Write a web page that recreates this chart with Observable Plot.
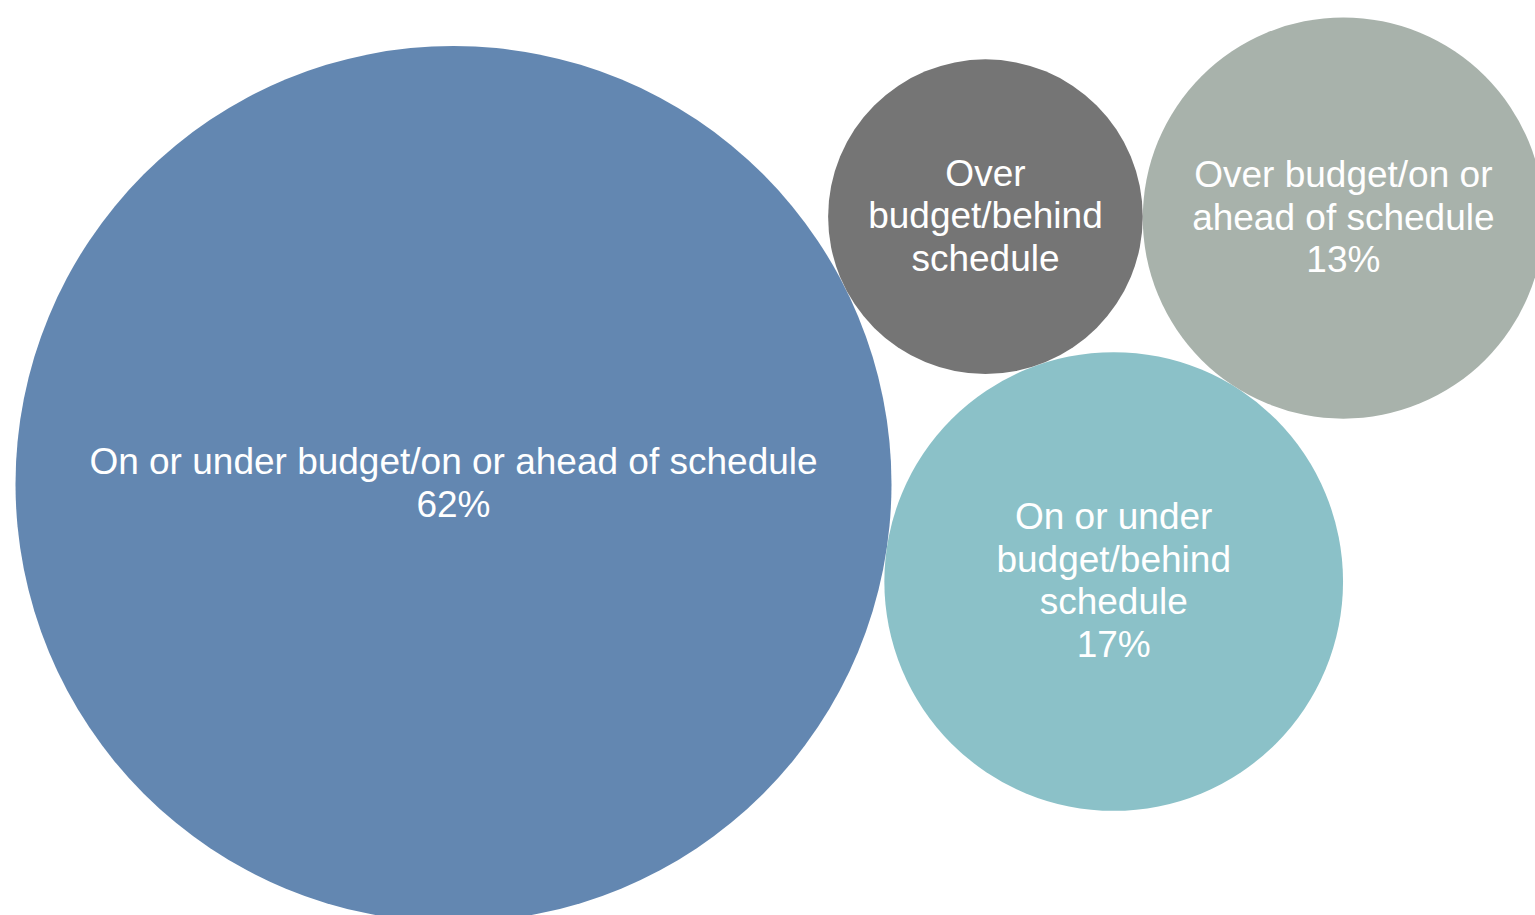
<!DOCTYPE html>
<html>
<head>
<meta charset="utf-8">
<script src="https://cdn.jsdelivr.net/npm/d3@7"></script>
<script src="https://cdn.jsdelivr.net/npm/@observablehq/plot@0.6"></script>
<style>
  html, body { margin: 0; padding: 0; background: #ffffff; overflow: hidden; }
  #chart svg { display: block; }
</style>
</head>
<body>
<div id="chart"></div>
<script>
// ---- Data ----
const categories = [
  "On or under budget/on or ahead of schedule",
  "On or under budget/behind schedule",
  "Over budget/behind schedule",
  "Over budget/on or ahead of schedule"
];
const values = [62, 17, 8, 13];
const labelLines = [
  ["On or under budget/on or ahead of schedule"],
  ["On or under", "budget/behind", "schedule"],
  ["Over", "budget/behind", "schedule"],
  ["Over budget/on or", "ahead of schedule"]
];
const showValue = [true, true, false, true];

// ---- Styles ----
const colors = ["#6387b1", "#8bc1c8", "#757575", "#a8b2ab"];
const W = 1535, H = 915;
const maxRadius = 438;
const padLeft = 15, padTop = 17;
const firstAngle = 8.4 * Math.PI / 180; // direction from largest to 2nd bubble

// ---- Layout: tangent-circle packing (in pixel units of the r scale) ----
const rScale = d3.scaleSqrt().domain([0, d3.max(values)]).range([0, maxRadius]);
const nodes = categories.map((c, i) => ({
  category: c,
  value: values[i],
  r: rScale(values[i]),
  label: labelLines[i].concat(showValue[i] ? [values[i] + "%"] : []).join("\n")
}));
function placeTangent(a, b, c, side) {
  const da = a.r + c.r, db = b.r + c.r;
  const dab = Math.hypot(b.x - a.x, b.y - a.y);
  const alpha = Math.acos((dab * dab + da * da - db * db) / (2 * dab * da));
  const base = Math.atan2(b.y - a.y, b.x - a.x);
  c.x = a.x + da * Math.cos(base + side * alpha);
  c.y = a.y + da * Math.sin(base + side * alpha);
}
const [B, T, D, L] = nodes;
B.x = 0; B.y = 0;
T.x = (B.r + T.r) * Math.cos(firstAngle);
T.y = (B.r + T.r) * Math.sin(firstAngle);
placeTangent(B, T, D, -1);
placeTangent(T, D, L, +1);

const minX = d3.min(nodes, d => d.x - d.r);
const minY = d3.min(nodes, d => d.y - d.r);
const x0 = minX - padLeft, y0 = minY - padTop;

const chart = Plot.plot({
  width: W,
  height: H,
  margin: 0,
  style: { background: "#ffffff", overflow: "visible" },
  x: { domain: [x0, x0 + W], range: [0, W], axis: null },
  y: { domain: [y0, y0 + H], range: [0, H], axis: null },
  r: { type: "sqrt", domain: [0, d3.max(values)], range: [0, maxRadius] },
  color: { domain: categories, range: colors },
  marks: [
    Plot.dot(nodes, { x: "x", y: "y", r: "value", fill: "category", stroke: "none", fillOpacity: 1 }),
    Plot.text(nodes, {
      x: "x", y: "y", text: "label",
      fill: "#ffffff",
      fontSize: 37,
      lineHeight: 1.15,
      fontFamily: "'Liberation Sans', Arial, sans-serif",
      textAnchor: "middle",
      lineAnchor: "middle",
      dy: -2
    })
  ]
});
document.getElementById("chart").appendChild(chart);
</script>
</body>
</html>
